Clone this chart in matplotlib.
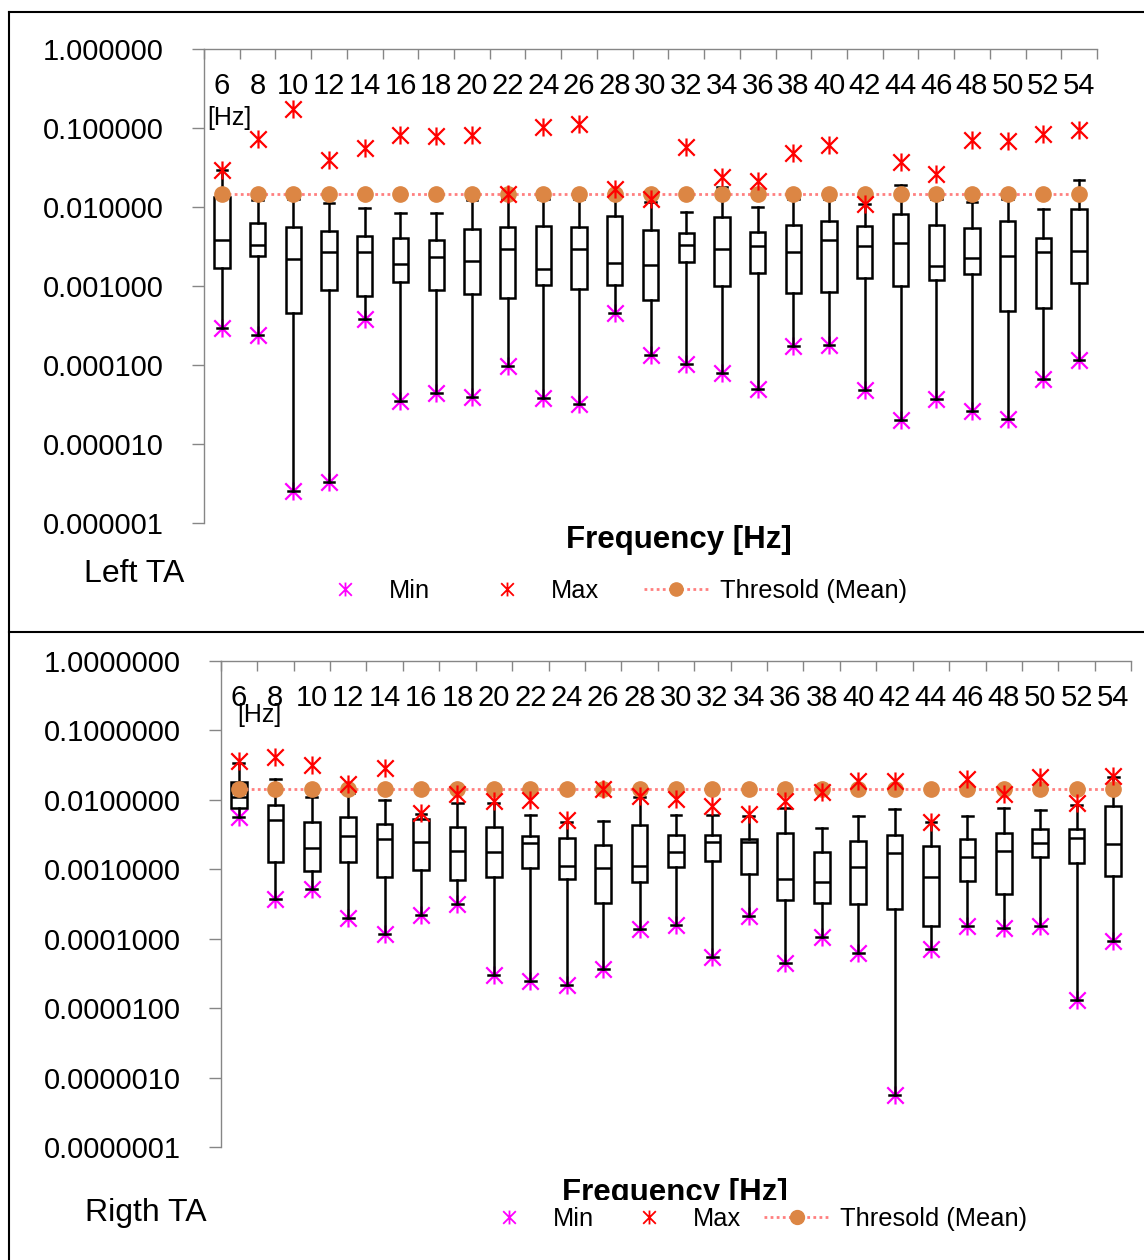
import matplotlib
matplotlib.use("Agg")
import matplotlib.pyplot as plt
import numpy as np
from matplotlib.lines import Line2D
from matplotlib.path import Path
from matplotlib.patches import Rectangle
from matplotlib.ticker import FixedLocator, FormatStrFormatter, NullLocator

plt.rcParams["font.family"] = ["Liberation Sans", "DejaVu Sans"]

W, H = 1144, 1260

FREQS = [6, 8, 10, 12, 14, 16, 18, 20, 22, 24, 26, 28, 30,
         32, 34, 36, 38, 40, 42, 44, 46, 48, 50, 52, 54]

# Left TA
LEFT_MAX = [0.0297, 0.0724, 0.173, 0.0397, 0.0557, 0.0805, 0.079, 0.0805, 0.0144,
            0.1016, 0.113, 0.0171, 0.0127, 0.0567, 0.0242, 0.0216, 0.0482, 0.0608,
            0.0108, 0.0367, 0.0259, 0.0703, 0.0683, 0.0829, 0.093]
LEFT_WHI = [0.029, 0.0122, 0.0125, 0.0113, 0.0096, 0.0083, 0.0083, 0.0122, 0.0125,
            0.0125, 0.0125, 0.0135, 0.0116, 0.0086, 0.0179, 0.0100, 0.0125, 0.0125,
            0.0108, 0.0188, 0.0125, 0.0115, 0.0125, 0.0093, 0.022]
LEFT_Q3 = [0.0135, 0.00635, 0.00566, 0.00503, 0.00427, 0.00403, 0.00387, 0.00533,
           0.00554, 0.00582, 0.00554, 0.00778, 0.00508, 0.00466, 0.00757, 0.00484,
           0.00587, 0.00673, 0.00571, 0.0081, 0.00594, 0.00538, 0.00667, 0.00403, 0.00935]
LEFT_MED = [0.00387, 0.00326, 0.00217, 0.00268, 0.00273, 0.00189, 0.0023, 0.00206,
            0.00292, 0.00162, 0.00298, 0.00193, 0.00184, 0.00326, 0.00292, 0.00323,
            0.00268, 0.00387, 0.00323, 0.00348, 0.00177, 0.00228, 0.00239, 0.00273, 0.00279]
LEFT_Q1 = [0.00168, 0.00243, 0.000451, 0.000889, 0.000746, 0.00114, 0.000889, 0.000783,
           0.000704, 0.00104, 0.000924, 0.00102, 0.000671, 0.00199, 0.000998, 0.001456,
           0.000807, 0.000848, 0.00126, 0.00101, 0.00119, 0.0014, 0.000482, 0.000526, 0.00109]
LEFT_MIN = [0.00029, 0.000243, 2.57e-6, 3.35e-6, 0.000386, 3.46e-5, 4.4e-5, 3.89e-5,
            9.75e-5, 3.77e-5, 3.2e-5, 0.000451, 0.000133, 0.000104, 7.94e-5, 4.9e-5,
            0.000173, 0.000178, 4.8e-5, 2.01e-5, 3.7e-5, 2.59e-5, 2.07e-5, 6.62e-5, 0.000115]
LEFT_THR = 0.0146

# Right TA
RIGHT_MAX = [0.0359, 0.0405, 0.0311, 0.0167, 0.0284, 0.00632, 0.01187, 0.00961, 0.00984,
             0.00507, 0.01417, 0.01135, 0.01017, 0.00805, 0.00618, 0.00961, 0.01295, 0.0185,
             0.0185, 0.00479, 0.0197, 0.012, 0.0209, 0.009, 0.022]
RIGHT_WHI = [0.0332, 0.01954, 0.01076, 0.0125, 0.00984, 0.0063, 0.0089, 0.009, 0.00598,
             0.0048, 0.00495, 0.0108, 0.00611, 0.00598, 0.0058, 0.0077, 0.00385, 0.00584,
             0.00723, 0.0048, 0.00578, 0.00762, 0.0072, 0.0085, 0.021]
RIGHT_Q3 = [0.0177, 0.00824, 0.00479, 0.00565, 0.00448, 0.00518, 0.00402, 0.0041, 0.00298,
            0.00285, 0.00221, 0.00433, 0.00311, 0.00311, 0.00272, 0.00326, 0.00175, 0.00252,
            0.00308, 0.00214, 0.00272, 0.00333, 0.00376, 0.00379, 0.00814]
RIGHT_MED = [0.01097, 0.00501, 0.00202, 0.00295, 0.0027, 0.00247, 0.00183, 0.00177, 0.00239,
             0.0011, 0.001054, 0.00111, 0.00177, 0.00247, 0.00242, 0.000732, 0.000647, 0.00109,
             0.00173, 0.000782, 0.00148, 0.00183, 0.00239, 0.00282, 0.00231]
RIGHT_Q1 = [0.00762, 0.00127, 0.000933, 0.001256, 0.000782, 0.000964, 0.000708, 0.000772,
            0.001054, 0.000732, 0.00033, 0.000654, 0.001076, 0.00131, 0.000845, 0.000357,
            0.000326, 0.000319, 0.000264, 0.000154, 0.000676, 0.00044, 0.0015, 0.001244, 0.00079]
RIGHT_MIN = [0.00565, 0.000372, 0.000519, 0.000198, 0.000116, 0.000222, 0.000312, 2.96e-5,
             2.43e-5, 2.12e-5, 3.61e-5, 0.000136, 0.000155, 5.43e-5, 0.000212, 4.45e-5,
             0.000105, 6.28e-5, 5.65e-7, 7.0e-5, 0.000154, 0.000142, 0.00015, 1.32e-5, 9.23e-5]
RIGHT_THR = 0.0142

MIN_C = "#FF00FF"
MAX_C = "#FF0000"
DOT_C = "#DC8644"
THR_C = "#FF7F7F"
GRAY = "#868686"

# excel-like asterisk: an x with a vertical bar
STAR = Path([(-1, -1), (1, 1), (-1, 1), (1, -1), (0, -1.1), (0, 1.1)],
            [Path.MOVETO, Path.LINETO] * 3)


def fx(px):
    return px / W


def fy(py):
    return 1 - py / H


def draw_panel(fig, box_px, mx, whi, q3, med, q1, mn, thr, fmt, ylo, lab_y):
    left, top, right, bottom = box_px
    ax = fig.add_axes([fx(left), fy(bottom), fx(right) - fx(left), fy(top) - fy(bottom)])
    pos = np.arange(len(FREQS))

    stats = [dict(med=m, q1=a, q3=b, whislo=lo, whishi=hi, fliers=[])
             for m, a, b, lo, hi in zip(med, q1, q3, mn, whi)]
    lw = 1.8
    ax.bxp(stats, positions=pos, widths=0.43, capwidths=0.3, patch_artist=True,
           manage_ticks=False, zorder=3,
           boxprops=dict(facecolor="white", edgecolor="black", linewidth=lw),
           whiskerprops=dict(color="black", linewidth=lw),
           capprops=dict(color="black", linewidth=lw),
           medianprops=dict(color="black", linewidth=lw))

    ax.plot(pos, mn, ls="none", marker=STAR, ms=13, mec=MIN_C, mfc="none", mew=1.6, zorder=2.5)
    ax.plot(pos, np.full(len(FREQS), thr), color=THR_C, lw=2, ls=(0, (1, 1.2)),
            marker="o", ms=11, mfc=DOT_C, mec=DOT_C, zorder=4)
    ax.plot(pos, mx, ls="none", marker=STAR, ms=13, mec=MAX_C, mfc="none", mew=1.6, zorder=5)

    ax.set_yscale("log")
    ax.set_ylim(ylo, 1)
    ax.set_xlim(-0.5, len(FREQS) - 0.5)
    ax.yaxis.set_major_locator(FixedLocator(10.0 ** np.arange(np.log10(ylo), 1)))
    ax.yaxis.set_minor_locator(NullLocator())
    ax.yaxis.set_major_formatter(FormatStrFormatter(fmt))
    ax.set_xticks(np.arange(-0.5, len(FREQS), 1))
    ax.tick_params(axis="x", top=True, bottom=False, labelbottom=False, labeltop=False,
                   direction="in", length=7, width=1, color=GRAY)
    ax.tick_params(axis="y", direction="out", length=9, width=1, color=GRAY,
                   labelsize=21, pad=20)
    ax.spines[["right", "bottom"]].set_visible(False)
    for s in ("left", "top"):
        ax.spines[s].set_color(GRAY)
        ax.spines[s].set_linewidth(1)

    for i, f in enumerate(FREQS):
        ax.text(i, lab_y, str(f), transform=ax.get_xaxis_transform(),
                ha="center", va="baseline", fontsize=21)
    return ax


def legend_handles(ms_star, ms_dot):
    return [
        Line2D([], [], ls="none", marker=STAR, ms=ms_star, mec=MIN_C, mfc="none", mew=1.3),
        Line2D([], [], ls="none", marker=STAR, ms=ms_star, mec=MAX_C, mfc="none", mew=1.3),
        Line2D([], [], color=THR_C, lw=2, ls=(0, (1, 1.2)), marker="o", ms=ms_dot,
               mfc=DOT_C, mec=DOT_C),
    ]


LABELS = ["Min", "Max", "Thresold (Mean)"]

fig = plt.figure(figsize=(W / 100, H / 100), dpi=100)

# frame lines
for xs, ys in [([9, W], [12, 12]), ([9, 9], [12, H]), ([9, W], [632, 632])]:
    fig.add_artist(Line2D([fx(x) for x in xs], [fy(y) for y in ys],
                          transform=fig.transFigure, color="black", lw=1.5))

# top panel
draw_panel(fig, (204, 49, 1097, 523), LEFT_MAX, LEFT_WHI, LEFT_Q3, LEFT_MED, LEFT_Q1,
           LEFT_MIN, LEFT_THR, "%.6f", 1e-6, 0.905)
fig.text(fx(207), fy(125), "[Hz]", fontsize=18, ha="left", va="baseline")
fig.text(fx(679), fy(548), "Frequency [Hz]", fontsize=22.5, fontweight="bold",
         ha="center", va="baseline")
fig.text(fx(84), fy(582), "Left TA", fontsize=23, ha="left", va="baseline")
fig.legend(legend_handles(10, 9.5), LABELS, loc="center", bbox_to_anchor=(fx(610), fy(591)),
           ncol=3, frameon=False, fontsize=18.3, handlelength=2.55, handletextpad=0.45,
           columnspacing=1.75, borderpad=0, borderaxespad=0)

# bottom panel
draw_panel(fig, (220.7, 660.7, 1131.3, 1147), RIGHT_MAX, RIGHT_WHI, RIGHT_Q3, RIGHT_MED,
           RIGHT_Q1, RIGHT_MIN, RIGHT_THR, "%.7f", 1e-7, 0.907)
fig.text(fx(237), fy(722), "[Hz]", fontsize=18, ha="left", va="baseline")
t = fig.text(fx(675), fy(1201), "Frequency [Hz]", fontsize=22.5, fontweight="bold",
             ha="center", va="baseline")
t.set_clip_path(Rectangle((0, fy(1200)), 1, 1 - fy(1200), transform=fig.transFigure))
fig.text(fx(85), fy(1221), "Rigth TA", fontsize=23, ha="left", va="baseline")
fig.legend(legend_handles(10, 10), LABELS, loc="center", bbox_to_anchor=(fx(752), fy(1219)),
           ncol=3, frameon=False, fontsize=18.3, handlelength=2.55, handletextpad=0.45,
           columnspacing=0.9, borderpad=0, borderaxespad=0)

fig.savefig("out.png", dpi=100)
plt.close(fig)
